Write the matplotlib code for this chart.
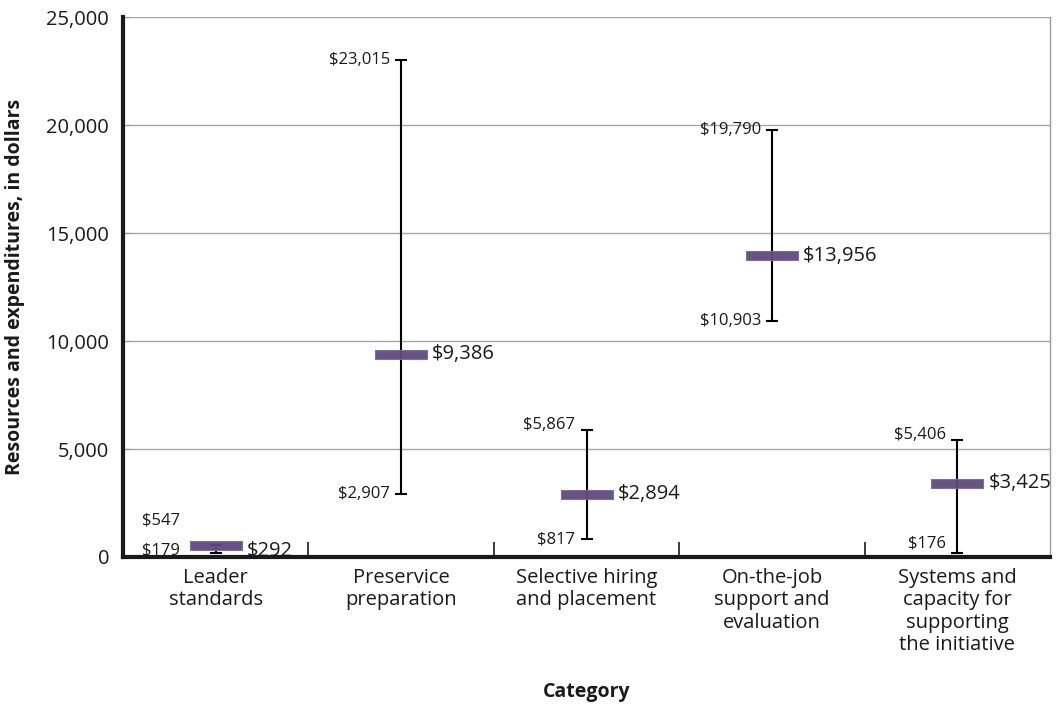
import matplotlib
matplotlib.use("Agg")
import matplotlib.pyplot as plt
import matplotlib.patches as mpatches
from matplotlib.ticker import FuncFormatter, FixedLocator

plt.rcParams['font.family'] = ['Open Sans', 'DejaVu Sans']

categories = ["Leader\nstandards", "Preservice\npreparation", "Selective hiring\nand placement",
              "On-the-job\nsupport and\nevaluation", "Systems and\ncapacity for\nsupporting\nthe initiative"]
mean_vals = [292, 9386, 2894, 13956, 3425]
low_vals = [179, 2907, 817, 10903, 176]
high_vals = [547, 23015, 5867, 19790, 5406]
yticks = [0, 5000, 10000, 15000, 20000, 25000]

W, H = 1061, 707
fig = plt.figure(figsize=(W / 100, H / 100), dpi=100)
ax = fig.add_axes([123 / W, 1 - 557 / H, (1050 - 123) / W, (557 - 17) / H])

ax.set_xlim(-0.5, len(categories) - 0.5)
ax.set_ylim(0, 25000)

ax.yaxis.set_major_locator(FixedLocator(yticks))
ax.yaxis.set_major_formatter(FuncFormatter(lambda v, p: f"{int(v):,}"))
ax.grid(axis='y', color='#a8a8a8', linewidth=1.0, zorder=0)
ax.set_axisbelow(True)

ax.spines['top'].set_visible(False)
ax.spines['left'].set_linewidth(3)
ax.spines['left'].set_color('#1a1a1a')
ax.spines['bottom'].set_linewidth(3)
ax.spines['bottom'].set_color('#1a1a1a')
ax.spines['right'].set_linewidth(1)
ax.spines['right'].set_color('#9a9a9a')

ax.tick_params(axis='y', direction='in', length=5, color='#9a9a9a', labelsize=14.5, pad=10,
               labelcolor='#1a1a1a')
ax.set_xticks(range(len(categories)))
ax.set_xticklabels(categories, fontsize=14.5, color='#1a1a1a', linespacing=1.15, va='top')
ax.tick_params(axis='x', which='major', length=0, pad=8)
ax.xaxis.set_minor_locator(FixedLocator([i + 0.5 for i in range(len(categories) - 1)]))
ax.tick_params(axis='x', which='minor', direction='in', length=11, width=1.2, color='#1a1a1a')

# pixel to data conversion helpers
ppx = (len(categories)) / (1050 - 123)   # data units per pixel (x)
ppy = 25000 / (557 - 17)                  # data units per pixel (y)

bar_hw = 26 * ppx
bar_hh = 4.5 * ppy
for i, (m, lo, hi) in enumerate(zip(mean_vals, low_vals, high_vals)):
    ax.errorbar([i], [m], yerr=[[m - lo], [hi - m]], fmt='none', ecolor='black',
                elinewidth=1.5, capsize=4.5, capthick=1.5, zorder=3)
    bottom = max(m - bar_hh, 7 * ppy)
    ax.add_patch(mpatches.Rectangle((i - bar_hw, bottom), 2 * bar_hw, 2 * bar_hh,
                                    facecolor='#5f4a7e', edgecolor='#7c6c96', linewidth=0.8,
                                    alpha=0.95, zorder=4))
    ax.text(i + 31 * ppx, m, f"${m:,}", fontsize=14.5, ha='left', va='center',
            color='#1a1a1a', zorder=5)
    if i == 0:
        ax.text(i - 36 * ppx, hi + 25 * ppy, f"${hi:,}", fontsize=12,
                ha='right', va='center', color='#1a1a1a')
        ax.text(i - 36 * ppx, lo + 3 * ppy, f"${lo:,}", fontsize=12,
                ha='right', va='center', color='#1a1a1a')
    else:
        hy = hi + (5 * ppy if hi < 6000 else 0)
        ly = lo + (10 * ppy if lo < 500 else 0)
        ax.text(i - 11 * ppx, hy, f"${hi:,}", fontsize=12, ha='right', va='center',
                color='#1a1a1a')
        ax.text(i - 11 * ppx, ly, f"${lo:,}", fontsize=12, ha='right', va='center',
                color='#1a1a1a')

fig.text(15 / W, 1 - 287 / H, "Resources and expenditures, in dollars", rotation=90,
         fontsize=14, fontweight='bold', ha='center', va='center', color='#1a1a1a')
fig.text((123 + 1050) / 2 / W, 1 - 692 / H, "Category", fontsize=14, fontweight='bold',
         ha='center', va='center', color='#1a1a1a')

fig.savefig("out.png", dpi=100)
